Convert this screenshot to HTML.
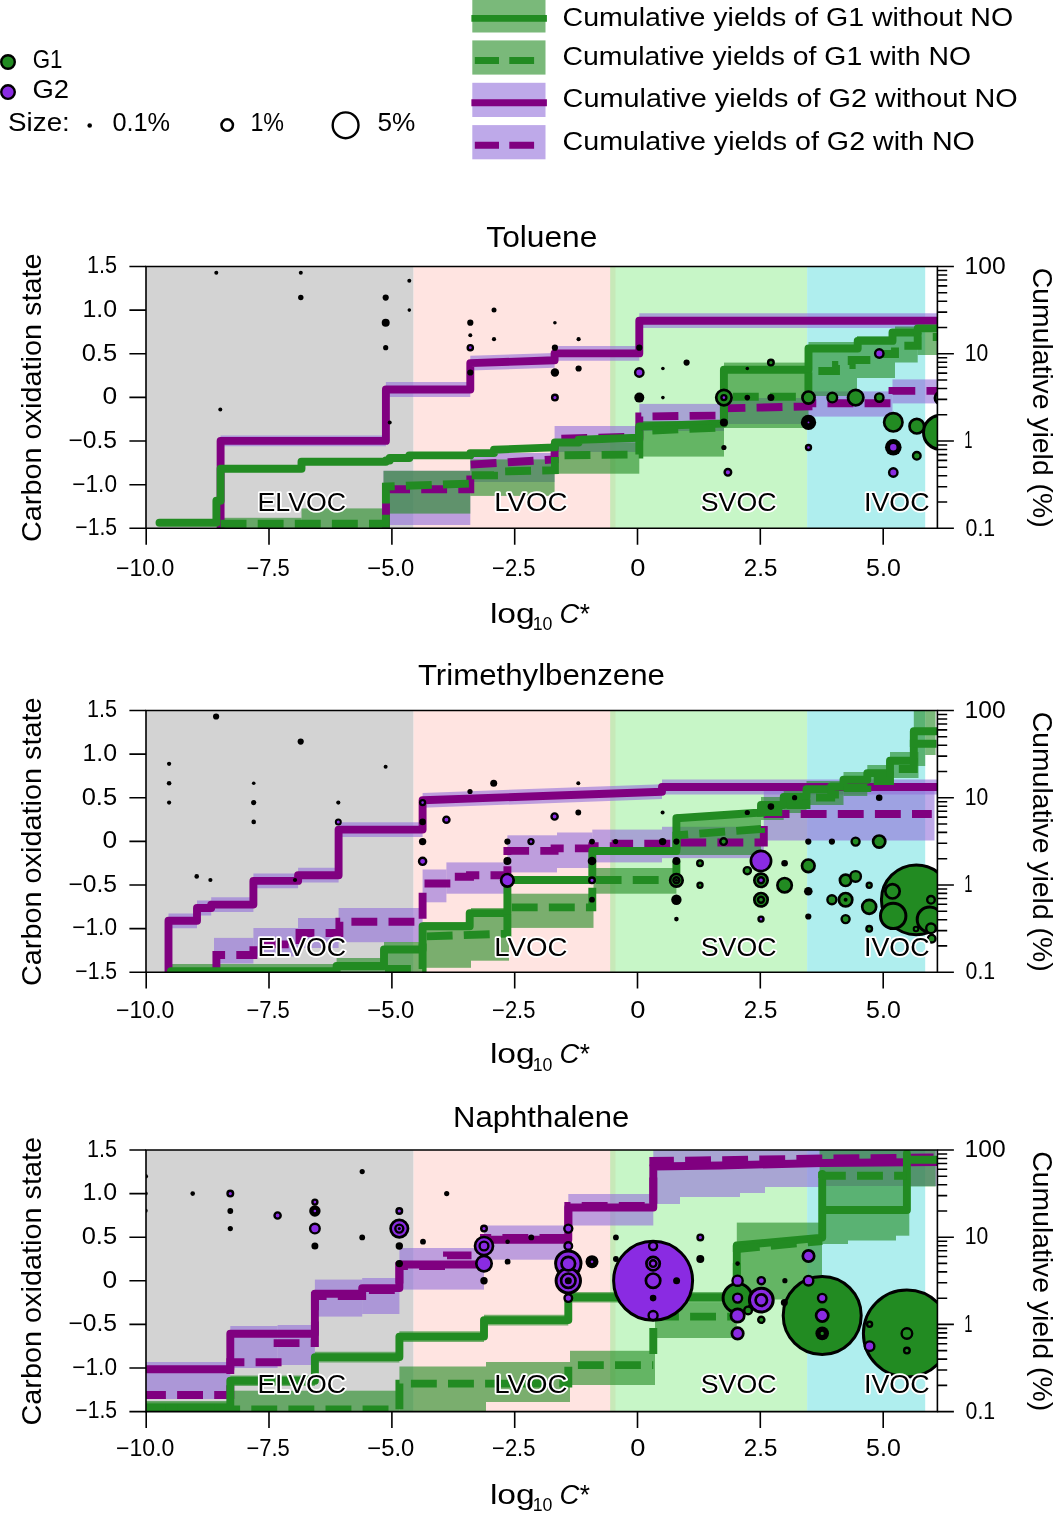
<!DOCTYPE html>
<html lang="en"><head><meta charset="utf-8"><title>Volatility distributions</title>
<style>html,body{margin:0;padding:0;background:#fff}svg{display:block;font-family:"Liberation Sans", sans-serif;fill:#000}</style>
</head><body>
<svg width="1053" height="1514" viewBox="0 0 1053 1514">
<rect width="1053" height="1514" fill="#fff"/>
<g>
<circle cx="8" cy="62" r="6.8" fill="#228b22" stroke="#000" stroke-width="2.4"/>
<circle cx="8" cy="92.1" r="6.8" fill="#8a2be2" stroke="#000" stroke-width="2.4"/>
<text x="32.7" y="68.3" font-size="26.2" text-anchor="start" textLength="29.8" lengthAdjust="spacingAndGlyphs">G1</text>
<text x="32.4" y="98.4" font-size="26.2" text-anchor="start" textLength="36.6" lengthAdjust="spacingAndGlyphs">G2</text>
<text x="8.1" y="130.7" font-size="26.2" text-anchor="start" textLength="61.7" lengthAdjust="spacingAndGlyphs">Size:</text>
<circle cx="89.7" cy="125.5" r="2.3" fill="#000"/>
<text x="112.4" y="130.7" font-size="26.2" text-anchor="start" textLength="57.7" lengthAdjust="spacingAndGlyphs">0.1%</text>
<circle cx="227.2" cy="125.1" r="5.75" fill="#fff" stroke="#000" stroke-width="2.5"/>
<text x="250.4" y="130.7" font-size="26.2" text-anchor="start" textLength="33.7" lengthAdjust="spacingAndGlyphs">1%</text>
<circle cx="345.6" cy="125.3" r="12.9" fill="#fff" stroke="#000" stroke-width="2.4"/>
<text x="377.4" y="130.7" font-size="26.2" text-anchor="start" textLength="37.9" lengthAdjust="spacingAndGlyphs">5%</text>
</g>
<g>
<rect x="472.3" y="-1.7" width="73.2" height="34.2" fill="rgba(34,139,34,0.6)"/>
<path d="M471.4,18.4 H546.9" stroke="#228b22" stroke-width="6.9" fill="none"/>
<text x="562.6" y="26.2" font-size="26.2" text-anchor="start" textLength="450.6" lengthAdjust="spacingAndGlyphs">Cumulative yields of G1 without NO</text>
<rect x="472.3" y="40.4" width="73.2" height="34.2" fill="rgba(34,139,34,0.6)"/>
<path d="M474.8,60.5 H499 M509.3,60.5 H534.1" stroke="#228b22" stroke-width="6.9" fill="none"/>
<text x="562.6" y="65" font-size="26.2" text-anchor="start" textLength="408.4" lengthAdjust="spacingAndGlyphs">Cumulative yields of G1 with NO</text>
<rect x="472.3" y="82.8" width="73.2" height="34.2" fill="rgba(147,112,219,0.6)"/>
<path d="M471.4,102.8 H546.9" stroke="#800080" stroke-width="6.9" fill="none"/>
<text x="562.6" y="106.8" font-size="26.2" text-anchor="start" textLength="455.1" lengthAdjust="spacingAndGlyphs">Cumulative yields of G2 without NO</text>
<rect x="472.3" y="125.1" width="73.2" height="34.2" fill="rgba(147,112,219,0.6)"/>
<path d="M474.8,145.3 H499 M509.3,145.3 H534.1" stroke="#800080" stroke-width="6.9" fill="none"/>
<text x="562.6" y="149.6" font-size="26.2" text-anchor="start" textLength="412.3" lengthAdjust="spacingAndGlyphs">Cumulative yields of G2 with NO</text>
</g>
<g>
<clipPath id="clip0"><rect x="146" y="266.5" width="791.4" height="261.8"/></clipPath>
<rect x="146" y="266.5" width="267.6" height="261.8" fill="#d3d3d3"/>
<rect x="413.6" y="266.5" width="201.9" height="261.8" fill="#ffe4e1"/>
<rect x="610.2" y="266.5" width="196.9" height="261.8" fill="rgba(144,238,144,0.5)"/>
<rect x="807.1" y="266.5" width="118.1" height="261.8" fill="#afeeee"/>
<g clip-path="url(#clip0)">
<polygon points="220.6,435.5 385.9,435.5 385.9,446.3 220.6,446.3" fill="rgba(147,112,219,0.6)"/>
<polygon points="385.9,382.1 470.3,382.1 470.3,396.9 385.9,396.9" fill="rgba(147,112,219,0.6)"/>
<polygon points="470.3,355.7 554.6,352.9 554.6,367.7 470.3,370.5" fill="rgba(147,112,219,0.6)"/>
<polygon points="554.6,346 639.3,346 639.3,360.8 554.6,360.8" fill="rgba(147,112,219,0.6)"/>
<polygon points="639.3,313.3 940,313.3 940,328.1 639.3,328.1" fill="rgba(147,112,219,0.6)"/>
<rect x="383.5" y="470.8" width="86.8" height="54.2" fill="rgba(147,112,219,0.6)"/>
<rect x="470.3" y="453" width="84.3" height="29" fill="rgba(147,112,219,0.6)"/>
<rect x="554.6" y="426" width="84.7" height="26" fill="rgba(147,112,219,0.6)"/>
<rect x="639.3" y="403.9" width="84.7" height="27.1" fill="rgba(147,112,219,0.6)"/>
<rect x="724" y="398" width="84" height="26" fill="rgba(147,112,219,0.6)"/>
<rect x="808" y="391.4" width="84.5" height="25.2" fill="rgba(147,112,219,0.6)"/>
<rect x="892.5" y="379.4" width="44.9" height="24" fill="rgba(147,112,219,0.6)"/>
<rect x="220.6" y="517.8" width="80.9" height="10.5" fill="rgba(34,139,34,0.6)"/>
<rect x="301.5" y="508.4" width="82" height="19.9" fill="rgba(34,139,34,0.6)"/>
<rect x="383.5" y="470.8" width="86.8" height="42.8" fill="rgba(34,139,34,0.6)"/>
<rect x="470.3" y="459.4" width="84.3" height="36.5" fill="rgba(34,139,34,0.6)"/>
<rect x="554.6" y="442.3" width="84.7" height="31.4" fill="rgba(34,139,34,0.6)"/>
<rect x="639.3" y="421" width="84.7" height="35.6" fill="rgba(34,139,34,0.6)"/>
<rect x="724" y="362.6" width="84.5" height="65.4" fill="rgba(34,139,34,0.6)"/>
<rect x="808.5" y="342" width="48.5" height="54" fill="rgba(34,139,34,0.6)"/>
<rect x="857" y="336" width="38" height="42" fill="rgba(34,139,34,0.6)"/>
<rect x="895" y="326.5" width="22.7" height="36" fill="rgba(34,139,34,0.6)"/>
<rect x="917.7" y="325" width="19.7" height="30" fill="rgba(34,139,34,0.6)"/>
<path d="M220.6,540 V440.9 H385.9 V389.5 H470.3 V363.1 L554.6,360.3 V353.4 H639.3 V320.7 H940" fill="none" stroke="#800080" stroke-width="7.9" stroke-linejoin="round" stroke-linecap="round"/>
<path d="M386,528.3 V489.3 H470.3 V464.6 L554.6,459.4 V438.9 L639.3,436.6 V416.5 L723.9,415.5 V408.3 L808.5,406.5 V403.2 H892.5 V390.9 H940" fill="none" stroke="#800080" stroke-width="7.9" stroke-linejoin="miter" stroke-linecap="butt" stroke-dasharray="25.9 11.2"/>
<path d="M159.5,522.7 H216.4 V500.7 H220.6 V468.8 H301.5 V461.7 H385.9 V460.5 H389.7 V458 H409.3 V455.4 H470.3 V453.1 H494 V449.7 L554.9,447.4 V442.5 H578.6 V439.7 L639.3,437.7 V426.5 L723.9,423.5 V369.7 H808.5 V348.5 H857.7 V340.9 H892.5 V332.5 H917.7 V328.4 H940" fill="none" stroke="#228b22" stroke-width="7.9" stroke-linejoin="round" stroke-linecap="round"/>
<path d="M220.6,523.8 H385.9 V486.5 L470.3,483.6 V475.3 H494 V471.6 L554.9,470.2 V455.4 L639.3,454.5 V431 L723.9,427.5 V396.8 H808.4 V371 H836 V365 H851.7 V360 H879 V354 H895 V345.7 H917.7 V337 H940" fill="none" stroke="#228b22" stroke-width="7.9" stroke-linejoin="miter" stroke-linecap="butt" stroke-dasharray="25.9 11.2"/>
<circle cx="940.5" cy="432.4" r="17" fill="#228b22" stroke="#000" stroke-width="3.0"/>
<circle cx="893.3" cy="422.3" r="9.2" fill="#228b22" stroke="#000" stroke-width="2.7"/>
<circle cx="723.9" cy="397.6" r="7.7" fill="#228b22" stroke="#000" stroke-width="2.7"/>
<circle cx="855.7" cy="397.6" r="7.7" fill="#228b22" stroke="#000" stroke-width="2.7"/>
<circle cx="916.8" cy="426.2" r="7.3" fill="#228b22" stroke="#000" stroke-width="2.7"/>
<circle cx="893.3" cy="447.3" r="8.3"/>
<circle cx="808.5" cy="422.4" r="7.7"/>
<circle cx="808.5" cy="397.6" r="6.1" fill="#228b22" stroke="#000" stroke-width="2.7"/>
<circle cx="941" cy="397.9" r="6.1" fill="#228b22" stroke="#000" stroke-width="2.7"/>
<circle cx="893.3" cy="447.3" r="5.8" fill="#228b22" stroke="#000" stroke-width="2.7"/>
<circle cx="832.3" cy="397.6" r="4.8" fill="#228b22" stroke="#000" stroke-width="2.4"/>
<circle cx="893.3" cy="447.3" r="4.4" fill="#8a2be2" stroke="#000" stroke-width="2.4"/>
<circle cx="639.3" cy="372.5" r="4.2" fill="#8a2be2" stroke="#000" stroke-width="2.4"/>
<circle cx="879.3" cy="397.6" r="4.2" fill="#228b22" stroke="#000" stroke-width="2.4"/>
<circle cx="879.3" cy="353.5" r="4.2" fill="#8a2be2" stroke="#000" stroke-width="2.4"/>
<circle cx="893.3" cy="472.5" r="4.2" fill="#8a2be2" stroke="#000" stroke-width="2.4"/>
<circle cx="639.3" cy="397.6" r="5"/>
<circle cx="916.8" cy="455.8" r="3.8" fill="#228b22" stroke="#000" stroke-width="2.4"/>
<circle cx="727.9" cy="472.3" r="3.3" fill="#8a2be2" stroke="#000" stroke-width="2.4"/>
<circle cx="554.9" cy="372.5" r="4.2"/>
<circle cx="385.7" cy="322.7" r="4"/>
<circle cx="554.9" cy="397.6" r="2.8" fill="#8a2be2" stroke="#000" stroke-width="2.4"/>
<circle cx="723.9" cy="422.4" r="4"/>
<circle cx="770.9" cy="362.6" r="2.8" fill="#228b22" stroke="#000" stroke-width="2.4"/>
<circle cx="470.3" cy="347.7" r="2.6" fill="#8a2be2" stroke="#000" stroke-width="2.4"/>
<circle cx="723.9" cy="397.6" r="2.5" fill="#8a2be2" stroke="#000" stroke-width="2.4"/>
<circle cx="808.5" cy="447.5" r="2.5" fill="#8a2be2" stroke="#000" stroke-width="2.4"/>
<circle cx="770.9" cy="397.6" r="3.5"/>
<circle cx="385.7" cy="297.6" r="3.1"/>
<circle cx="470.3" cy="322.7" r="3.1"/>
<circle cx="470.3" cy="372.5" r="3.1"/>
<circle cx="554.9" cy="347.7" r="3.1"/>
<circle cx="578.6" cy="368.5" r="3.1"/>
<circle cx="639.3" cy="347.7" r="3.1"/>
<circle cx="686.6" cy="362.6" r="3.1"/>
<circle cx="808.5" cy="422.4" r="1.9" fill="#8a2be2" stroke="#000" stroke-width="2.0"/>
<circle cx="747.3" cy="397.6" r="2.8"/>
<circle cx="300.8" cy="297.5" r="2.7"/>
<circle cx="385.7" cy="347.7" r="2.6"/>
<circle cx="723.9" cy="447.5" r="2.6"/>
<circle cx="494" cy="310.1" r="2.5"/>
<circle cx="494" cy="339.2" r="2.1"/>
<circle cx="578.6" cy="339.2" r="2.1"/>
<circle cx="216.3" cy="272.8" r="2"/>
<circle cx="300.8" cy="272.8" r="2"/>
<circle cx="220.3" cy="409.5" r="2"/>
<circle cx="409.3" cy="280.8" r="2"/>
<circle cx="389.7" cy="422.4" r="2"/>
<circle cx="470.3" cy="335.2" r="2"/>
<circle cx="409.3" cy="310.1" r="1.8"/>
<circle cx="554.9" cy="322.7" r="1.8"/>
<circle cx="662.9" cy="368.5" r="1.8"/>
<circle cx="662.9" cy="397.6" r="1.8"/>
<circle cx="747.3" cy="368.5" r="1.8"/>
</g>
<text x="257.5" y="510.6" font-size="26" text-anchor="start" textLength="88.6" lengthAdjust="spacingAndGlyphs" stroke="#fff" stroke-width="3.4" stroke-linejoin="round" paint-order="stroke">ELVOC</text>
<text x="494.2" y="510.6" font-size="26" text-anchor="start" textLength="73.2" lengthAdjust="spacingAndGlyphs" stroke="#fff" stroke-width="3.4" stroke-linejoin="round" paint-order="stroke">LVOC</text>
<text x="700.8" y="510.6" font-size="26" text-anchor="start" textLength="75.7" lengthAdjust="spacingAndGlyphs" stroke="#fff" stroke-width="3.4" stroke-linejoin="round" paint-order="stroke">SVOC</text>
<text x="864" y="510.6" font-size="26" text-anchor="start" textLength="65.6" lengthAdjust="spacingAndGlyphs" stroke="#fff" stroke-width="3.4" stroke-linejoin="round" paint-order="stroke">IVOC</text>
<path d="M146,266.5 H937.4 V528.3 H146 Z" fill="none" stroke="#000" stroke-width="1.6"/>
<path d="M129.4,266.5 H146M129.4,310.1 H146M129.4,353.8 H146M129.4,397.4 H146M129.4,441 H146M129.4,484.7 H146M129.4,528.3 H146M146.2,528.3 V544.7M269,528.3 V544.7M391.9,528.3 V544.7M514.7,528.3 V544.7M637.5,528.3 V544.7M760.3,528.3 V544.7M883.2,528.3 V544.7M937.4,528.3 H953.9M937.4,502 H947.2M937.4,486.7 H947.2M937.4,475.8 H947.2M937.4,467.3 H947.2M937.4,460.4 H947.2M937.4,454.6 H947.2M937.4,449.5 H947.2M937.4,445 H947.2M937.4,441 H953.9M937.4,414.8 H947.2M937.4,399.4 H947.2M937.4,388.5 H947.2M937.4,380 H947.2M937.4,373.1 H947.2M937.4,367.3 H947.2M937.4,362.2 H947.2M937.4,357.8 H947.2M937.4,353.8 H953.9M937.4,327.5 H947.2M937.4,312.1 H947.2M937.4,301.2 H947.2M937.4,292.8 H947.2M937.4,285.9 H947.2M937.4,280 H947.2M937.4,275 H947.2M937.4,270.5 H947.2M937.4,266.5 H953.9" fill="none" stroke="#000" stroke-width="1.6"/>
<text x="87" y="273.3" font-size="23.2" text-anchor="start" textLength="30" lengthAdjust="spacingAndGlyphs">1.5</text>
<text x="82.4" y="316.9" font-size="23.2" text-anchor="start" textLength="34.6" lengthAdjust="spacingAndGlyphs">1.0</text>
<text x="81.7" y="360.6" font-size="23.2" text-anchor="start" textLength="35.4" lengthAdjust="spacingAndGlyphs">0.5</text>
<text x="102.4" y="404.2" font-size="23.2" text-anchor="start" textLength="14.7" lengthAdjust="spacingAndGlyphs">0</text>
<text x="68.4" y="447.8" font-size="23.2" text-anchor="start" textLength="48.7" lengthAdjust="spacingAndGlyphs">−0.5</text>
<text x="72.3" y="491.5" font-size="23.2" text-anchor="start" textLength="44.7" lengthAdjust="spacingAndGlyphs">−1.0</text>
<text x="75.3" y="535.1" font-size="23.2" text-anchor="start" textLength="41.7" lengthAdjust="spacingAndGlyphs">−1.5</text>
<text x="964.6" y="273.7" font-size="23.2" text-anchor="start" textLength="41.1" lengthAdjust="spacingAndGlyphs">100</text>
<text x="964.8" y="361" font-size="23.2" text-anchor="start" textLength="23.5" lengthAdjust="spacingAndGlyphs">10</text>
<text x="964.3" y="448.2" font-size="23.2" text-anchor="start" textLength="8.2" lengthAdjust="spacingAndGlyphs">1</text>
<text x="965.6" y="535.5" font-size="23.2" text-anchor="start" textLength="29.6" lengthAdjust="spacingAndGlyphs">0.1</text>
<text x="116" y="575.6" font-size="23.2" text-anchor="start" textLength="58.4" lengthAdjust="spacingAndGlyphs">−10.0</text>
<text x="246.4" y="575.6" font-size="23.2" text-anchor="start" textLength="43.3" lengthAdjust="spacingAndGlyphs">−7.5</text>
<text x="367.3" y="575.6" font-size="23.2" text-anchor="start" textLength="47.1" lengthAdjust="spacingAndGlyphs">−5.0</text>
<text x="492.1" y="575.6" font-size="23.2" text-anchor="start" textLength="43.3" lengthAdjust="spacingAndGlyphs">−2.5</text>
<text x="630.2" y="575.6" font-size="23.2" text-anchor="start" textLength="15.2" lengthAdjust="spacingAndGlyphs">0</text>
<text x="743.8" y="575.6" font-size="23.2" text-anchor="start" textLength="33.5" lengthAdjust="spacingAndGlyphs">2.5</text>
<text x="866.1" y="575.6" font-size="23.2" text-anchor="start" textLength="34.7" lengthAdjust="spacingAndGlyphs">5.0</text>
<text font-size="26.8"><tspan x="489.9" y="622.6" font-size="26.8" textLength="44.9" lengthAdjust="spacingAndGlyphs">log</tspan><tspan x="532.7" y="630" font-size="18" textLength="19.7" lengthAdjust="spacingAndGlyphs">10</tspan> <tspan x="559.6" y="622.6" font-size="26.8" font-style="italic" textLength="19.9" lengthAdjust="spacingAndGlyphs">C</tspan><tspan x="579.8" y="622.6" font-size="26.8" textLength="10.2" lengthAdjust="spacingAndGlyphs">*</tspan></text>
<text x="486.3" y="247" font-size="30" text-anchor="start" textLength="111.1" lengthAdjust="spacingAndGlyphs">Toluene</text>
<text transform="translate(41.2,540.6) rotate(-90)" x="-1.4" y="0" font-size="28.5" textLength="288.5" lengthAdjust="spacingAndGlyphs">Carbon oxidation state</text>
<text transform="translate(1032.5,269.2) rotate(90)" x="-1.4" y="0" font-size="28.5" textLength="259.8" lengthAdjust="spacingAndGlyphs">Cumulative yield (%)</text>
</g>
<g>
<clipPath id="clip1"><rect x="146" y="710.5" width="791.4" height="261.7"/></clipPath>
<rect x="146" y="710.5" width="267.6" height="261.7" fill="#d3d3d3"/>
<rect x="413.6" y="710.5" width="201.9" height="261.7" fill="#ffe4e1"/>
<rect x="610.2" y="710.5" width="196.9" height="261.7" fill="rgba(144,238,144,0.5)"/>
<rect x="807.1" y="710.5" width="118.1" height="261.7" fill="#afeeee"/>
<g clip-path="url(#clip1)">
<polygon points="168.5,913.4 197,913.4 197,928.2 168.5,928.2" fill="rgba(147,112,219,0.6)"/>
<polygon points="197,900.6 211.2,900.6 211.2,915.4 197,915.4" fill="rgba(147,112,219,0.6)"/>
<polygon points="211.2,897.2 253.4,897.2 253.4,912 211.2,912" fill="rgba(147,112,219,0.6)"/>
<polygon points="253.4,873.5 298.1,873.5 298.1,888.3 253.4,888.3" fill="rgba(147,112,219,0.6)"/>
<polygon points="298.1,867.8 338.6,867.8 338.6,882.6 298.1,882.6" fill="rgba(147,112,219,0.6)"/>
<polygon points="338.6,822.2 422.6,822.2 422.6,837 338.6,837" fill="rgba(147,112,219,0.6)"/>
<polygon points="422.6,792.9 662,784.3 662,799.1 422.6,807.7" fill="rgba(147,112,219,0.6)"/>
<polygon points="662,779.6 940,779.6 940,794.4 662,794.4" fill="rgba(147,112,219,0.6)"/>
<rect x="214" y="937.9" width="39.4" height="25.6" fill="rgba(147,112,219,0.6)"/>
<rect x="253.4" y="928" width="44.6" height="28.4" fill="rgba(147,112,219,0.6)"/>
<rect x="298" y="918" width="40.6" height="30" fill="rgba(147,112,219,0.6)"/>
<rect x="338.6" y="908" width="84" height="34.2" fill="rgba(147,112,219,0.6)"/>
<rect x="422.6" y="869.5" width="23.8" height="32.8" fill="rgba(147,112,219,0.6)"/>
<rect x="446.4" y="862.4" width="61" height="31.3" fill="rgba(147,112,219,0.6)"/>
<rect x="507.4" y="835.3" width="49.6" height="37.1" fill="rgba(147,112,219,0.6)"/>
<rect x="557" y="832.5" width="35.3" height="35.5" fill="rgba(147,112,219,0.6)"/>
<rect x="592.3" y="829.6" width="69.7" height="32.8" fill="rgba(147,112,219,0.6)"/>
<rect x="662" y="826.8" width="101.8" height="31.3" fill="rgba(147,112,219,0.6)"/>
<rect x="763.8" y="785" width="170.7" height="55.5" fill="rgba(147,112,219,0.6)"/>
<rect x="168.5" y="964" width="168.1" height="8.2" fill="rgba(34,139,34,0.6)"/>
<rect x="336.6" y="958" width="47.4" height="14.2" fill="rgba(34,139,34,0.6)"/>
<rect x="384" y="942" width="38.6" height="30.2" fill="rgba(34,139,34,0.6)"/>
<rect x="422.6" y="922" width="48.4" height="45.8" fill="rgba(34,139,34,0.6)"/>
<rect x="471" y="908" width="38" height="52.7" fill="rgba(34,139,34,0.6)"/>
<rect x="509" y="893.7" width="84.5" height="34.2" fill="rgba(34,139,34,0.6)"/>
<rect x="593.5" y="868" width="82.9" height="25.7" fill="rgba(34,139,34,0.6)"/>
<rect x="676.4" y="814" width="84.6" height="41" fill="rgba(34,139,34,0.6)"/>
<rect x="761" y="797" width="22.7" height="23" fill="rgba(34,139,34,0.6)"/>
<rect x="783.7" y="789" width="22.8" height="24" fill="rgba(34,139,34,0.6)"/>
<rect x="806.5" y="781" width="37" height="24" fill="rgba(34,139,34,0.6)"/>
<rect x="843.5" y="772" width="23.8" height="24" fill="rgba(34,139,34,0.6)"/>
<rect x="867.3" y="765" width="22.7" height="24" fill="rgba(34,139,34,0.6)"/>
<rect x="890" y="752" width="28.5" height="26" fill="rgba(34,139,34,0.6)"/>
<rect x="913.8" y="710.5" width="11.4" height="55.5" fill="rgba(34,139,34,0.6)"/>
<rect x="925.2" y="710.5" width="10.4" height="44.5" fill="rgba(34,139,34,0.6)"/>
<path d="M168.5,985 V920.8 H197 V908 H211.2 V904.6 H253.4 V880.9 H298.1 V875.2 H338.6 V829.6 H422.6 V800.3 L662,791.7 V787 H940" fill="none" stroke="#800080" stroke-width="7.9" stroke-linejoin="round" stroke-linecap="round"/>
<path d="M216.4,972.2 V955 H253.4 V944.4 H299.5 V933 H339.4 V921.7 H422.6 V883.5 H446.4 V876.7 H470 V875.3 H507.4 V850.9 H554.6 V848.4 H592.3 V846.2 H615.6 V843.6 H676.4 V842.5 H763.8 V825 M763.6,814 H931.8" fill="none" stroke="#800080" stroke-width="7.9" stroke-linejoin="miter" stroke-linecap="butt" stroke-dasharray="25.9 11.2"/>
<path d="M171,971.3 H336.6 V966 H384 V949.5 H422.6 V926.3 H469.7 V913.1 H507.4 V880 H592.3 V851 H676.4 V818.2 L761,812.5 V805 H783.7 V797 H806.5 V789.3 H831.2 V786.5 H843.5 V779.8 H867.3 V773.1 H890 V760.8 H913.8 V731.3 H940" fill="none" stroke="#228b22" stroke-width="7.9" stroke-linejoin="round" stroke-linecap="round"/>
<path d="M385,969 H422.6 V936.5 L507.4,933.6 V907.4 H592.3 V880 H676.4 V835.3 L761,829 V812 H783.7 V805 H806.5 V797.5 H831.2 V794.5 H843.5 V788 H867.3 V781 H890 V769 H913.8 V743.7 H940" fill="none" stroke="#228b22" stroke-width="7.9" stroke-linejoin="miter" stroke-linecap="butt" stroke-dasharray="25.9 11.2"/>
<circle cx="916.3" cy="899.8" r="34.9" fill="#228b22" stroke="#000" stroke-width="3.0"/>
<circle cx="893.2" cy="915.9" r="12.7" fill="#228b22" stroke="#000" stroke-width="3.0"/>
<circle cx="929.7" cy="919.5" r="12.5" fill="#228b22" stroke="#000" stroke-width="3.0"/>
<circle cx="761" cy="861" r="10.1" fill="#8a2be2" stroke="#000" stroke-width="2.7"/>
<circle cx="784.6" cy="885.2" r="7.2" fill="#228b22" stroke="#000" stroke-width="2.7"/>
<circle cx="892.5" cy="891.3" r="7.2" fill="#228b22" stroke="#000" stroke-width="2.7"/>
<circle cx="869.2" cy="906.8" r="7" fill="#228b22" stroke="#000" stroke-width="2.7"/>
<circle cx="761" cy="880.3" r="6.7" fill="#228b22" stroke="#000" stroke-width="2.7"/>
<circle cx="761" cy="899.7" r="6.7" fill="#228b22" stroke="#000" stroke-width="2.7"/>
<circle cx="845.6" cy="899.7" r="6.7" fill="#228b22" stroke="#000" stroke-width="2.7"/>
<circle cx="507.4" cy="880.3" r="6.3" fill="#8a2be2" stroke="#000" stroke-width="2.7"/>
<circle cx="676.4" cy="880.3" r="6.3" fill="#228b22" stroke="#000" stroke-width="2.7"/>
<circle cx="808.3" cy="865.8" r="6.3" fill="#228b22" stroke="#000" stroke-width="2.7"/>
<circle cx="879.2" cy="841.6" r="6.1" fill="#228b22" stroke="#000" stroke-width="2.7"/>
<circle cx="845.6" cy="880.3" r="5.7" fill="#228b22" stroke="#000" stroke-width="2.7"/>
<circle cx="855.6" cy="876.4" r="5.3" fill="#228b22" stroke="#000" stroke-width="2.4"/>
<circle cx="931" cy="928.3" r="4.8" fill="#228b22" stroke="#000" stroke-width="2.4"/>
<circle cx="831.9" cy="899.7" r="4.5" fill="#228b22" stroke="#000" stroke-width="2.4"/>
<circle cx="676.4" cy="899.7" r="5.2"/>
<circle cx="845.6" cy="919.1" r="4" fill="#228b22" stroke="#000" stroke-width="2.4"/>
<circle cx="855.6" cy="841.6" r="4" fill="#228b22" stroke="#000" stroke-width="2.4"/>
<circle cx="931" cy="899.8" r="3.8" fill="#228b22" stroke="#000" stroke-width="2.4"/>
<circle cx="931.7" cy="938.7" r="3.8" fill="#228b22" stroke="#000" stroke-width="2.4"/>
<circle cx="422.6" cy="861.3" r="3.6" fill="#8a2be2" stroke="#000" stroke-width="2.4"/>
<circle cx="747.3" cy="870.7" r="3.6" fill="#228b22" stroke="#000" stroke-width="2.4"/>
<circle cx="723.6" cy="841.6" r="3.3" fill="#228b22" stroke="#000" stroke-width="2.4"/>
<circle cx="446.4" cy="819.7" r="3.1" fill="#8a2be2" stroke="#000" stroke-width="2.4"/>
<circle cx="554.6" cy="816.5" r="3.1" fill="#8a2be2" stroke="#000" stroke-width="2.4"/>
<circle cx="592" cy="861" r="4.3"/>
<circle cx="808.3" cy="891.2" r="4.3"/>
<circle cx="676.4" cy="880.3" r="3" fill="#228b22" stroke="#000" stroke-width="2.4"/>
<circle cx="761" cy="899.7" r="3" fill="#228b22" stroke="#000" stroke-width="2.4"/>
<circle cx="592" cy="880.3" r="2.8" fill="#8a2be2" stroke="#000" stroke-width="2.4"/>
<circle cx="700" cy="863.2" r="2.8" fill="#228b22" stroke="#000" stroke-width="2.4"/>
<circle cx="761" cy="880.3" r="3" fill="#8a2be2" stroke="#000" stroke-width="2.4"/>
<circle cx="507.4" cy="861" r="4"/>
<circle cx="676.4" cy="861" r="4"/>
<circle cx="869.2" cy="928.8" r="2.8" fill="#228b22" stroke="#000" stroke-width="2.4"/>
<circle cx="422.6" cy="802.6" r="2.5" fill="#8a2be2" stroke="#000" stroke-width="2.4"/>
<circle cx="422.6" cy="841.6" r="3.7"/>
<circle cx="531" cy="841.6" r="2.5" fill="#8a2be2" stroke="#000" stroke-width="2.4"/>
<circle cx="662.6" cy="841.6" r="3.7"/>
<circle cx="700" cy="885.2" r="2.5" fill="#228b22" stroke="#000" stroke-width="2.4"/>
<circle cx="761" cy="919.1" r="2.5" fill="#8a2be2" stroke="#000" stroke-width="2.4"/>
<circle cx="869.2" cy="885.2" r="2.5" fill="#228b22" stroke="#000" stroke-width="2.4"/>
<circle cx="338.3" cy="821.9" r="2.5" fill="#8a2be2" stroke="#000" stroke-width="2.0"/>
<circle cx="493.7" cy="783.2" r="3.5"/>
<circle cx="422.6" cy="821.9" r="3.3"/>
<circle cx="770.9" cy="806.6" r="3.3"/>
<circle cx="784.6" cy="863.2" r="3.3"/>
<circle cx="879.2" cy="797.7" r="3.3"/>
<circle cx="916" cy="929" r="2.3" fill="#228b22" stroke="#000" stroke-width="2.0"/>
<circle cx="216.1" cy="716.5" r="3.1"/>
<circle cx="300.7" cy="741.6" r="3.1"/>
<circle cx="507.4" cy="841.6" r="3.1"/>
<circle cx="676.4" cy="841.6" r="3.1"/>
<circle cx="808.3" cy="841.6" r="3.1"/>
<circle cx="808.3" cy="916.5" r="3.1"/>
<circle cx="831.9" cy="841.6" r="3.1"/>
<circle cx="578.3" cy="812.5" r="2.9"/>
<circle cx="592" cy="841.6" r="2.9"/>
<circle cx="592" cy="899.7" r="2.9"/>
<circle cx="253.7" cy="802.6" r="2.6"/>
<circle cx="470" cy="791.5" r="2.6"/>
<circle cx="615.6" cy="841.6" r="2.6"/>
<circle cx="747.3" cy="812.5" r="2.6"/>
<circle cx="794.6" cy="797.7" r="2.6"/>
<circle cx="169.1" cy="783.2" r="2.3"/>
<circle cx="253.7" cy="821.9" r="2.3"/>
<circle cx="196.7" cy="876.4" r="2.3"/>
<circle cx="676.4" cy="919.1" r="2.3"/>
<circle cx="169.1" cy="763.8" r="2.1"/>
<circle cx="169.1" cy="802.6" r="2.1"/>
<circle cx="338.3" cy="802.6" r="2.1"/>
<circle cx="210.4" cy="880" r="2.1"/>
<circle cx="295" cy="880" r="2.1"/>
<circle cx="385.6" cy="766.7" r="2"/>
<circle cx="578.3" cy="783.2" r="2"/>
<circle cx="662.6" cy="812.5" r="2"/>
<circle cx="845.6" cy="899.7" r="2"/>
<circle cx="253.7" cy="783.2" r="1.8"/>
<circle cx="676.4" cy="880.3" r="1.5"/>
</g>
<text x="257.5" y="955.8" font-size="26" text-anchor="start" textLength="88.6" lengthAdjust="spacingAndGlyphs" stroke="#fff" stroke-width="3.4" stroke-linejoin="round" paint-order="stroke">ELVOC</text>
<text x="494.2" y="955.8" font-size="26" text-anchor="start" textLength="73.2" lengthAdjust="spacingAndGlyphs" stroke="#fff" stroke-width="3.4" stroke-linejoin="round" paint-order="stroke">LVOC</text>
<text x="700.8" y="955.8" font-size="26" text-anchor="start" textLength="75.7" lengthAdjust="spacingAndGlyphs" stroke="#fff" stroke-width="3.4" stroke-linejoin="round" paint-order="stroke">SVOC</text>
<text x="864" y="955.8" font-size="26" text-anchor="start" textLength="65.6" lengthAdjust="spacingAndGlyphs" stroke="#fff" stroke-width="3.4" stroke-linejoin="round" paint-order="stroke">IVOC</text>
<path d="M146,710.5 H937.4 V972.2 H146 Z" fill="none" stroke="#000" stroke-width="1.6"/>
<path d="M129.4,710.5 H146M129.4,754.1 H146M129.4,797.7 H146M129.4,841.4 H146M129.4,885 H146M129.4,928.6 H146M129.4,972.2 H146M146.2,972.2 V988.6M269,972.2 V988.6M391.9,972.2 V988.6M514.7,972.2 V988.6M637.5,972.2 V988.6M760.3,972.2 V988.6M883.2,972.2 V988.6M937.4,972.2 H953.9M937.4,945.9 H947.2M937.4,930.6 H947.2M937.4,919.7 H947.2M937.4,911.2 H947.2M937.4,904.3 H947.2M937.4,898.5 H947.2M937.4,893.4 H947.2M937.4,889 H947.2M937.4,885 H953.9M937.4,858.7 H947.2M937.4,843.3 H947.2M937.4,832.4 H947.2M937.4,824 H947.2M937.4,817.1 H947.2M937.4,811.2 H947.2M937.4,806.2 H947.2M937.4,801.7 H947.2M937.4,797.7 H953.9M937.4,771.5 H947.2M937.4,756.1 H947.2M937.4,745.2 H947.2M937.4,736.8 H947.2M937.4,729.9 H947.2M937.4,724 H947.2M937.4,719 H947.2M937.4,714.5 H947.2M937.4,710.5 H953.9" fill="none" stroke="#000" stroke-width="1.6"/>
<text x="87" y="717.3" font-size="23.2" text-anchor="start" textLength="30" lengthAdjust="spacingAndGlyphs">1.5</text>
<text x="82.4" y="760.9" font-size="23.2" text-anchor="start" textLength="34.6" lengthAdjust="spacingAndGlyphs">1.0</text>
<text x="81.7" y="804.5" font-size="23.2" text-anchor="start" textLength="35.4" lengthAdjust="spacingAndGlyphs">0.5</text>
<text x="102.4" y="848.1" font-size="23.2" text-anchor="start" textLength="14.7" lengthAdjust="spacingAndGlyphs">0</text>
<text x="68.4" y="891.8" font-size="23.2" text-anchor="start" textLength="48.7" lengthAdjust="spacingAndGlyphs">−0.5</text>
<text x="72.3" y="935.4" font-size="23.2" text-anchor="start" textLength="44.7" lengthAdjust="spacingAndGlyphs">−1.0</text>
<text x="75.3" y="979" font-size="23.2" text-anchor="start" textLength="41.7" lengthAdjust="spacingAndGlyphs">−1.5</text>
<text x="964.6" y="717.7" font-size="23.2" text-anchor="start" textLength="41.1" lengthAdjust="spacingAndGlyphs">100</text>
<text x="964.8" y="804.9" font-size="23.2" text-anchor="start" textLength="23.5" lengthAdjust="spacingAndGlyphs">10</text>
<text x="964.3" y="892.2" font-size="23.2" text-anchor="start" textLength="8.2" lengthAdjust="spacingAndGlyphs">1</text>
<text x="965.6" y="979.4" font-size="23.2" text-anchor="start" textLength="29.6" lengthAdjust="spacingAndGlyphs">0.1</text>
<text x="116" y="1018.4" font-size="23.2" text-anchor="start" textLength="58.4" lengthAdjust="spacingAndGlyphs">−10.0</text>
<text x="246.4" y="1018.4" font-size="23.2" text-anchor="start" textLength="43.3" lengthAdjust="spacingAndGlyphs">−7.5</text>
<text x="367.3" y="1018.4" font-size="23.2" text-anchor="start" textLength="47.1" lengthAdjust="spacingAndGlyphs">−5.0</text>
<text x="492.1" y="1018.4" font-size="23.2" text-anchor="start" textLength="43.3" lengthAdjust="spacingAndGlyphs">−2.5</text>
<text x="630.2" y="1018.4" font-size="23.2" text-anchor="start" textLength="15.2" lengthAdjust="spacingAndGlyphs">0</text>
<text x="743.8" y="1018.4" font-size="23.2" text-anchor="start" textLength="33.5" lengthAdjust="spacingAndGlyphs">2.5</text>
<text x="866.1" y="1018.4" font-size="23.2" text-anchor="start" textLength="34.7" lengthAdjust="spacingAndGlyphs">5.0</text>
<text font-size="26.8"><tspan x="489.9" y="1063.1" font-size="26.8" textLength="44.9" lengthAdjust="spacingAndGlyphs">log</tspan><tspan x="532.7" y="1070.5" font-size="18" textLength="19.7" lengthAdjust="spacingAndGlyphs">10</tspan> <tspan x="559.6" y="1063.1" font-size="26.8" font-style="italic" textLength="19.9" lengthAdjust="spacingAndGlyphs">C</tspan><tspan x="579.8" y="1063.1" font-size="26.8" textLength="10.2" lengthAdjust="spacingAndGlyphs">*</tspan></text>
<text x="417.9" y="684.8" font-size="30" text-anchor="start" textLength="247" lengthAdjust="spacingAndGlyphs">Trimethylbenzene</text>
<text transform="translate(41.2,984.6) rotate(-90)" x="-1.4" y="0" font-size="28.5" textLength="288.5" lengthAdjust="spacingAndGlyphs">Carbon oxidation state</text>
<text transform="translate(1032.5,713.2) rotate(90)" x="-1.4" y="0" font-size="28.5" textLength="259.8" lengthAdjust="spacingAndGlyphs">Cumulative yield (%)</text>
</g>
<g>
<clipPath id="clip2"><rect x="146" y="1150" width="791.4" height="261.6"/></clipPath>
<rect x="146" y="1150" width="267.6" height="261.6" fill="#d3d3d3"/>
<rect x="413.6" y="1150" width="201.9" height="261.6" fill="#ffe4e1"/>
<rect x="610.2" y="1150" width="196.9" height="261.6" fill="rgba(144,238,144,0.5)"/>
<rect x="807.1" y="1150" width="118.1" height="261.6" fill="#afeeee"/>
<g clip-path="url(#clip2)">
<rect x="146" y="1362" width="84.3" height="37" fill="rgba(147,112,219,0.6)"/>
<rect x="230.3" y="1326" width="47.3" height="42" fill="rgba(147,112,219,0.6)"/>
<rect x="277.6" y="1325" width="37.3" height="40" fill="rgba(147,112,219,0.6)"/>
<rect x="314.9" y="1279.6" width="47.3" height="37" fill="rgba(147,112,219,0.6)"/>
<rect x="362.2" y="1278" width="37.2" height="36" fill="rgba(147,112,219,0.6)"/>
<rect x="399.4" y="1248" width="84.6" height="41.6" fill="rgba(147,112,219,0.6)"/>
<rect x="484" y="1225.5" width="84.3" height="34.2" fill="rgba(147,112,219,0.6)"/>
<rect x="568.3" y="1194" width="85" height="31.5" fill="rgba(147,112,219,0.6)"/>
<rect x="653.3" y="1150" width="26.7" height="54" fill="rgba(147,112,219,0.6)"/>
<rect x="680" y="1150" width="60" height="47" fill="rgba(147,112,219,0.6)"/>
<rect x="740" y="1150" width="25" height="43" fill="rgba(147,112,219,0.6)"/>
<rect x="765" y="1150" width="54.5" height="37" fill="rgba(147,112,219,0.6)"/>
<rect x="819.5" y="1150" width="117" height="36" fill="rgba(147,112,219,0.6)"/>
<polygon points="146,1402.5 230.3,1402.5 230.3,1413.1 146,1413.1" fill="rgba(34,139,34,0.6)"/>
<polygon points="230.3,1375.4 314.9,1375.4 314.9,1386 230.3,1386" fill="rgba(34,139,34,0.6)"/>
<polygon points="314.9,1351.8 399.4,1351.8 399.4,1362.4 314.9,1362.4" fill="rgba(34,139,34,0.6)"/>
<polygon points="399.4,1331.3 484,1331.3 484,1341.9 399.4,1341.9" fill="rgba(34,139,34,0.6)"/>
<polygon points="484,1314.8 568.3,1314.8 568.3,1325.4 484,1325.4" fill="rgba(34,139,34,0.6)"/>
<polygon points="568.3,1292 736.8,1292 736.8,1302.6 568.3,1302.6" fill="rgba(34,139,34,0.6)"/>
<rect x="146" y="1401" width="84.3" height="10.6" fill="rgba(34,139,34,0.6)"/>
<rect x="230.3" y="1390.7" width="169.1" height="20.9" fill="rgba(34,139,34,0.6)"/>
<rect x="399.4" y="1366.5" width="86.6" height="45.1" fill="rgba(34,139,34,0.6)"/>
<rect x="486" y="1362" width="84" height="40" fill="rgba(34,139,34,0.6)"/>
<rect x="570" y="1350.8" width="85" height="34.2" fill="rgba(34,139,34,0.6)"/>
<rect x="655" y="1302.4" width="81.8" height="35.6" fill="rgba(34,139,34,0.6)"/>
<rect x="736.8" y="1222.6" width="85.2" height="76.9" fill="rgba(34,139,34,0.6)"/>
<rect x="819.5" y="1150" width="28.5" height="94" fill="rgba(34,139,34,0.6)"/>
<rect x="848" y="1150" width="48" height="90.5" fill="rgba(34,139,34,0.6)"/>
<rect x="896" y="1150" width="13.3" height="85.7" fill="rgba(34,139,34,0.6)"/>
<rect x="909.3" y="1150" width="26.4" height="36.5" fill="rgba(34,139,34,0.6)"/>
<path d="M140,1369.3 H230.3 V1333.7 H314.9 V1293.8 H362.2 V1288.1 H399.4 V1264.5 H484 V1239.7 H568.3 V1207.5 H653.3 V1166.5 L720,1165.5 L822,1163 L940,1162" fill="none" stroke="#800080" stroke-width="7.9" stroke-linejoin="round" stroke-linecap="round"/>
<path d="M140,1395 H230.3 V1362.2 H277.6 V1343.1 H314.9 V1296 H362.2 V1290 H399.4 V1266 H447 V1255.4 H484 V1238 H568.3 V1206 H653.3 V1161 L700,1160.5 L822,1158.5 L940,1157.5" fill="none" stroke="#800080" stroke-width="7.9" stroke-linejoin="miter" stroke-linecap="butt" stroke-dasharray="25.9 11.2"/>
<path d="M140,1407.8 H230.3 V1380.7 H314.9 V1357.1 H399.4 V1336.6 H484 V1320.1 H568.3 V1297.3 H736.8 V1245.5 L822.2,1237.6 V1210 H906.9 V1159.8 H940 M822.2,1212 V1174 M906.9,1165 V1153.5" fill="none" stroke="#228b22" stroke-width="7.9" stroke-linejoin="round" stroke-linecap="round"/>
<path d="M140,1409.5 H399.4 V1383.6 H568.3 V1365.1 H653.3 M653.3,1354 V1316.6 H736.8 V1249 L822.2,1241 M822.2,1178 V1175.7 H906.9" fill="none" stroke="#228b22" stroke-width="7.9" stroke-linejoin="miter" stroke-linecap="butt" stroke-dasharray="25.9 11.2"/>
<circle cx="906.9" cy="1333.5" r="43.5" fill="#228b22" stroke="#000" stroke-width="3.0"/>
<circle cx="653.1" cy="1280.7" r="39.5" fill="#8a2be2" stroke="#000" stroke-width="3.0"/>
<circle cx="822.2" cy="1315.5" r="39" fill="#228b22" stroke="#000" stroke-width="3.0"/>
<circle cx="737.6" cy="1298.1" r="14.5" fill="#228b22" stroke="#000" stroke-width="3.0"/>
<circle cx="568.3" cy="1263.6" r="12.7" fill="#8a2be2" stroke="#000" stroke-width="3.0"/>
<circle cx="568.3" cy="1280.7" r="12.2" fill="#8a2be2" stroke="#000" stroke-width="3.0"/>
<circle cx="761.3" cy="1300.1" r="11.9" fill="#8a2be2" stroke="#000" stroke-width="3.0"/>
<circle cx="484" cy="1246" r="9" fill="#8a2be2" stroke="#000" stroke-width="2.7"/>
<circle cx="399.3" cy="1228.6" r="8.7" fill="#8a2be2" stroke="#000" stroke-width="2.7"/>
<circle cx="484" cy="1263.6" r="7.7" fill="#8a2be2" stroke="#000" stroke-width="2.7"/>
<circle cx="568.3" cy="1280.7" r="7.2" fill="#8a2be2" stroke="#000" stroke-width="2.7"/>
<circle cx="653.1" cy="1280.7" r="7.2" fill="#8a2be2" stroke="#000" stroke-width="2.7"/>
<circle cx="568.3" cy="1263.6" r="6.8" fill="#8a2be2" stroke="#000" stroke-width="2.7"/>
<circle cx="653.1" cy="1263.6" r="6.7" fill="#8a2be2" stroke="#000" stroke-width="2.7"/>
<circle cx="737.6" cy="1315.5" r="6.7" fill="#8a2be2" stroke="#000" stroke-width="2.7"/>
<circle cx="822.2" cy="1315.5" r="6.1" fill="#8a2be2" stroke="#000" stroke-width="2.7"/>
<circle cx="737.6" cy="1333.4" r="5.7" fill="#8a2be2" stroke="#000" stroke-width="2.7"/>
<circle cx="761.3" cy="1300.1" r="5.7" fill="#8a2be2" stroke="#000" stroke-width="2.7"/>
<circle cx="808.5" cy="1256" r="5.7" fill="#8a2be2" stroke="#000" stroke-width="2.7"/>
<circle cx="822.2" cy="1333.4" r="6.8"/>
<circle cx="592" cy="1261.7" r="6.5"/>
<circle cx="906.9" cy="1333.5" r="5.3" fill="#228b22" stroke="#000" stroke-width="2.4"/>
<circle cx="737.6" cy="1280.7" r="5.1" fill="#8a2be2" stroke="#000" stroke-width="2.4"/>
<circle cx="314.9" cy="1228.6" r="4.8" fill="#8a2be2" stroke="#000" stroke-width="2.4"/>
<circle cx="808.5" cy="1280.7" r="4.8" fill="#8a2be2" stroke="#000" stroke-width="2.4"/>
<circle cx="869.6" cy="1346.2" r="4.8" fill="#8a2be2" stroke="#000" stroke-width="2.4"/>
<circle cx="314.9" cy="1211" r="5.7"/>
<circle cx="653.1" cy="1315.5" r="4.5" fill="#8a2be2" stroke="#000" stroke-width="2.4"/>
<circle cx="737.6" cy="1298.1" r="4.5" fill="#8a2be2" stroke="#000" stroke-width="2.4"/>
<circle cx="484" cy="1246" r="4.4" fill="#8a2be2" stroke="#000" stroke-width="2.4"/>
<circle cx="822.2" cy="1298.1" r="4.2" fill="#8a2be2" stroke="#000" stroke-width="2.4"/>
<circle cx="399.3" cy="1228.6" r="4" fill="#8a2be2" stroke="#000" stroke-width="2.4"/>
<circle cx="568.3" cy="1228.6" r="4" fill="#8a2be2" stroke="#000" stroke-width="2.4"/>
<circle cx="653.1" cy="1246" r="4" fill="#8a2be2" stroke="#000" stroke-width="2.4"/>
<circle cx="568.3" cy="1246" r="3.8" fill="#8a2be2" stroke="#000" stroke-width="2.4"/>
<circle cx="568.3" cy="1298.1" r="3.8" fill="#8a2be2" stroke="#000" stroke-width="2.4"/>
<circle cx="748.1" cy="1310.4" r="3.8" fill="#228b22" stroke="#000" stroke-width="2.4"/>
<circle cx="761.3" cy="1280.7" r="3.6" fill="#8a2be2" stroke="#000" stroke-width="2.4"/>
<circle cx="653.1" cy="1263.6" r="3.3" fill="#8a2be2" stroke="#000" stroke-width="2.4"/>
<circle cx="277.6" cy="1215.5" r="3.1" fill="#8a2be2" stroke="#000" stroke-width="2.4"/>
<circle cx="761.3" cy="1319.8" r="3.1" fill="#228b22" stroke="#000" stroke-width="2.4"/>
<circle cx="822.2" cy="1333.4" r="2.8" fill="#228b22" stroke="#000" stroke-width="2.4"/>
<circle cx="906.9" cy="1350.6" r="2.8" fill="#228b22" stroke="#000" stroke-width="2.4"/>
<circle cx="230.3" cy="1193.6" r="2.8" fill="#8a2be2" stroke="#000" stroke-width="2.4"/>
<circle cx="399.3" cy="1211" r="2.8" fill="#8a2be2" stroke="#000" stroke-width="2.4"/>
<circle cx="484" cy="1228.6" r="2.8" fill="#8a2be2" stroke="#000" stroke-width="2.4"/>
<circle cx="700.3" cy="1237.4" r="2.8" fill="#8a2be2" stroke="#000" stroke-width="2.4"/>
<circle cx="700.3" cy="1259.1" r="4"/>
<circle cx="314.9" cy="1202.1" r="2.5" fill="#8a2be2" stroke="#000" stroke-width="2.4"/>
<circle cx="314.9" cy="1211" r="2.5" fill="#8a2be2" stroke="#000" stroke-width="2.4"/>
<circle cx="399.3" cy="1246" r="3.7"/>
<circle cx="399.3" cy="1263.6" r="3.7"/>
<circle cx="484" cy="1280.7" r="3.7"/>
<circle cx="869.6" cy="1324.3" r="2.5" fill="#228b22" stroke="#000" stroke-width="2.4"/>
<circle cx="314.9" cy="1246" r="3.5"/>
<circle cx="568.3" cy="1280.7" r="3.5"/>
<circle cx="676.6" cy="1280.7" r="3.5"/>
<circle cx="784.3" cy="1302.4" r="3.5"/>
<circle cx="592" cy="1261.7" r="2.3" fill="#8a2be2" stroke="#000" stroke-width="2.0"/>
<circle cx="653.1" cy="1298.1" r="3.3"/>
<circle cx="230.3" cy="1211" r="2.9"/>
<circle cx="362.2" cy="1237.4" r="2.9"/>
<circle cx="423" cy="1241.7" r="2.9"/>
<circle cx="507.6" cy="1261.7" r="2.9"/>
<circle cx="531.3" cy="1237.4" r="2.9"/>
<circle cx="615.9" cy="1237.4" r="2.9"/>
<circle cx="615.9" cy="1259" r="2.9"/>
<circle cx="230.3" cy="1228.6" r="2.6"/>
<circle cx="362.2" cy="1171.6" r="2.6"/>
<circle cx="446.7" cy="1193.6" r="2.6"/>
<circle cx="784.9" cy="1280.7" r="2.6"/>
<circle cx="145.7" cy="1176.2" r="2.3"/>
<circle cx="192.7" cy="1193.6" r="2.3"/>
<circle cx="507.6" cy="1241.7" r="2.3"/>
<circle cx="737.6" cy="1263.6" r="2.3"/>
<circle cx="145.7" cy="1193.6" r="2"/>
<circle cx="145.7" cy="1210.7" r="2"/>
<circle cx="399.3" cy="1228.6" r="1.5"/>
</g>
<text x="257.5" y="1393" font-size="26" text-anchor="start" textLength="88.6" lengthAdjust="spacingAndGlyphs" stroke="#fff" stroke-width="3.4" stroke-linejoin="round" paint-order="stroke">ELVOC</text>
<text x="494.2" y="1393" font-size="26" text-anchor="start" textLength="73.2" lengthAdjust="spacingAndGlyphs" stroke="#fff" stroke-width="3.4" stroke-linejoin="round" paint-order="stroke">LVOC</text>
<text x="700.8" y="1393" font-size="26" text-anchor="start" textLength="75.7" lengthAdjust="spacingAndGlyphs" stroke="#fff" stroke-width="3.4" stroke-linejoin="round" paint-order="stroke">SVOC</text>
<text x="864" y="1393" font-size="26" text-anchor="start" textLength="65.6" lengthAdjust="spacingAndGlyphs" stroke="#fff" stroke-width="3.4" stroke-linejoin="round" paint-order="stroke">IVOC</text>
<path d="M146,1150 H937.4 V1411.6 H146 Z" fill="none" stroke="#000" stroke-width="1.6"/>
<path d="M129.4,1150 H146M129.4,1193.6 H146M129.4,1237.2 H146M129.4,1280.8 H146M129.4,1324.4 H146M129.4,1368 H146M129.4,1411.6 H146M146.2,1411.6 V1428M269,1411.6 V1428M391.9,1411.6 V1428M514.7,1411.6 V1428M637.5,1411.6 V1428M760.3,1411.6 V1428M883.2,1411.6 V1428M937.4,1411.6 H953.9M937.4,1385.4 H947.2M937.4,1370 H947.2M937.4,1359.1 H947.2M937.4,1350.6 H947.2M937.4,1343.7 H947.2M937.4,1337.9 H947.2M937.4,1332.9 H947.2M937.4,1328.4 H947.2M937.4,1324.4 H953.9M937.4,1298.2 H947.2M937.4,1282.8 H947.2M937.4,1271.9 H947.2M937.4,1263.4 H947.2M937.4,1256.5 H947.2M937.4,1250.7 H947.2M937.4,1245.7 H947.2M937.4,1241.2 H947.2M937.4,1237.2 H953.9M937.4,1211 H947.2M937.4,1195.6 H947.2M937.4,1184.7 H947.2M937.4,1176.2 H947.2M937.4,1169.3 H947.2M937.4,1163.5 H947.2M937.4,1158.5 H947.2M937.4,1154 H947.2M937.4,1150 H953.9" fill="none" stroke="#000" stroke-width="1.6"/>
<text x="87" y="1156.8" font-size="23.2" text-anchor="start" textLength="30" lengthAdjust="spacingAndGlyphs">1.5</text>
<text x="82.4" y="1200.4" font-size="23.2" text-anchor="start" textLength="34.6" lengthAdjust="spacingAndGlyphs">1.0</text>
<text x="81.7" y="1244" font-size="23.2" text-anchor="start" textLength="35.4" lengthAdjust="spacingAndGlyphs">0.5</text>
<text x="102.4" y="1287.6" font-size="23.2" text-anchor="start" textLength="14.7" lengthAdjust="spacingAndGlyphs">0</text>
<text x="68.4" y="1331.2" font-size="23.2" text-anchor="start" textLength="48.7" lengthAdjust="spacingAndGlyphs">−0.5</text>
<text x="72.3" y="1374.8" font-size="23.2" text-anchor="start" textLength="44.7" lengthAdjust="spacingAndGlyphs">−1.0</text>
<text x="75.3" y="1418.4" font-size="23.2" text-anchor="start" textLength="41.7" lengthAdjust="spacingAndGlyphs">−1.5</text>
<text x="964.6" y="1157.2" font-size="23.2" text-anchor="start" textLength="41.1" lengthAdjust="spacingAndGlyphs">100</text>
<text x="964.8" y="1244.4" font-size="23.2" text-anchor="start" textLength="23.5" lengthAdjust="spacingAndGlyphs">10</text>
<text x="964.3" y="1331.6" font-size="23.2" text-anchor="start" textLength="8.2" lengthAdjust="spacingAndGlyphs">1</text>
<text x="965.6" y="1418.8" font-size="23.2" text-anchor="start" textLength="29.6" lengthAdjust="spacingAndGlyphs">0.1</text>
<text x="116" y="1455.8" font-size="23.2" text-anchor="start" textLength="58.4" lengthAdjust="spacingAndGlyphs">−10.0</text>
<text x="246.4" y="1455.8" font-size="23.2" text-anchor="start" textLength="43.3" lengthAdjust="spacingAndGlyphs">−7.5</text>
<text x="367.3" y="1455.8" font-size="23.2" text-anchor="start" textLength="47.1" lengthAdjust="spacingAndGlyphs">−5.0</text>
<text x="492.1" y="1455.8" font-size="23.2" text-anchor="start" textLength="43.3" lengthAdjust="spacingAndGlyphs">−2.5</text>
<text x="630.2" y="1455.8" font-size="23.2" text-anchor="start" textLength="15.2" lengthAdjust="spacingAndGlyphs">0</text>
<text x="743.8" y="1455.8" font-size="23.2" text-anchor="start" textLength="33.5" lengthAdjust="spacingAndGlyphs">2.5</text>
<text x="866.1" y="1455.8" font-size="23.2" text-anchor="start" textLength="34.7" lengthAdjust="spacingAndGlyphs">5.0</text>
<text font-size="26.8"><tspan x="489.9" y="1503.7" font-size="26.8" textLength="44.9" lengthAdjust="spacingAndGlyphs">log</tspan><tspan x="532.7" y="1511.1" font-size="18" textLength="19.7" lengthAdjust="spacingAndGlyphs">10</tspan> <tspan x="559.6" y="1503.7" font-size="26.8" font-style="italic" textLength="19.9" lengthAdjust="spacingAndGlyphs">C</tspan><tspan x="579.8" y="1503.7" font-size="26.8" textLength="10.2" lengthAdjust="spacingAndGlyphs">*</tspan></text>
<text x="453.1" y="1127" font-size="30" text-anchor="start" textLength="176.2" lengthAdjust="spacingAndGlyphs">Naphthalene</text>
<text transform="translate(41.2,1424.1) rotate(-90)" x="-1.4" y="0" font-size="28.5" textLength="288.5" lengthAdjust="spacingAndGlyphs">Carbon oxidation state</text>
<text transform="translate(1032.5,1152.7) rotate(90)" x="-1.4" y="0" font-size="28.5" textLength="259.8" lengthAdjust="spacingAndGlyphs">Cumulative yield (%)</text>
</g>
</svg>
</body></html>
